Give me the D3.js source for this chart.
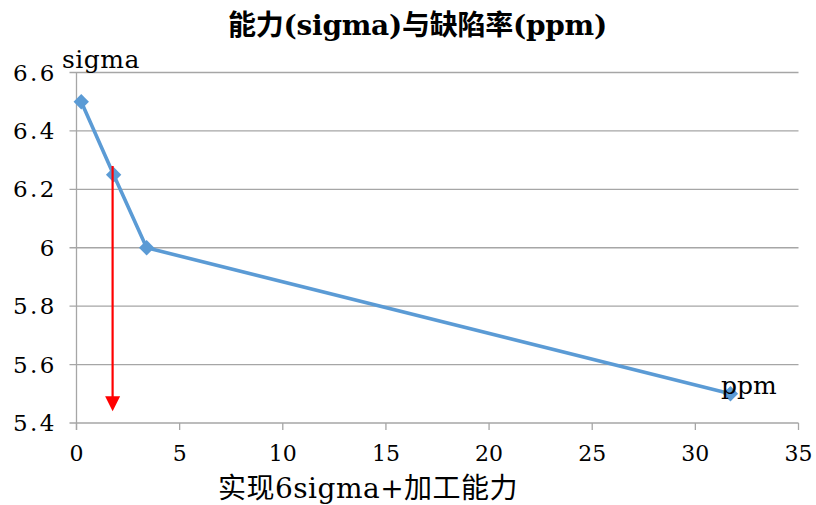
<!DOCTYPE html>
<html>
<head>
<meta charset="utf-8">
<script src="https://cdn.jsdelivr.net/npm/d3@7"></script>
<style>
  body { margin: 0; background: #fff; }
  svg { display: block; }
  text { font-family: "DejaVu Serif", "Noto Sans CJK SC", serif; fill: #000; }
</style>
</head>
<body>
<svg id="chart" width="816" height="505"></svg>
<script>
// data
const ppm = [0.23, 1.8, 3.4, 31.7];
const sigma = [6.5, 6.25, 6.0, 5.5];
const yTicks = [5.4, 5.6, 5.8, 6, 6.2, 6.4, 6.6];
const xTicks = [0, 5, 10, 15, 20, 25, 30, 35];
const arrowX = [1.75];
const arrowY = [6.28, 5.44];

const titleText = "能力(sigma)与缺陷率(ppm)";
const xTitle = "实现6sigma+加工能力";

let svg = d3.select("#chart");
let plotLeft = 76.5, plotRight = 798.5, plotTop = 72.5, plotBottom = 423;

let x = d3.scaleLinear().domain([0, 35]).range([plotLeft, plotRight]);
let y = d3.scaleLinear().domain([5.4, 6.6]).range([plotBottom, plotTop]);

// stretch a text run so it covers the same width as in the reference
function fitWidth(sel, target) {
    let n = sel.text().length;
    let w = sel.node().getComputedTextLength();
    sel.attr("letter-spacing", (target - w) / n);
}

// gridlines
svg.append("g")
    .selectAll("line")
    .data(yTicks)
    .join("line")
    .attr("x1", plotLeft - 7)
    .attr("x2", plotRight)
    .attr("y1", d => y(d))
    .attr("y2", d => y(d))
    .attr("stroke", "#a6a6a6")
    .attr("stroke-width", 1.3);

// y axis line
svg.append("line")
    .attr("x1", plotLeft).attr("x2", plotLeft)
    .attr("y1", plotTop).attr("y2", plotBottom + 7)
    .attr("stroke", "#a6a6a6").attr("stroke-width", 1.3);

// x ticks
svg.append("g")
    .selectAll("line")
    .data(xTicks)
    .join("line")
    .attr("x1", d => x(d)).attr("x2", d => x(d))
    .attr("y1", plotBottom).attr("y2", plotBottom + 7)
    .attr("stroke", "#a6a6a6").attr("stroke-width", 1.3);

// y tick labels
svg.append("g")
    .selectAll("text")
    .data(yTicks)
    .join("text")
    .attr("x", 57)
    .attr("y", d => y(d) + 8)
    .attr("text-anchor", "end")
    .attr("font-size", 23)
    .attr("letter-spacing", 2.5)
    .text(d => d3.format("")(d));

// x tick labels
svg.append("g")
    .selectAll("text")
    .data(xTicks)
    .join("text")
    .attr("x", d => x(d))
    .attr("y", 461)
    .attr("text-anchor", "middle")
    .attr("font-size", 22)
    .text(d => d);

// the series line
let line = d3.line()
    .x((d, i) => x(ppm[i]))
    .y(d => y(d));

svg.append("path")
    .datum(sigma)
    .attr("d", line)
    .attr("fill", "none")
    .attr("stroke", "#5b9bd5")
    .attr("stroke-width", 3.6);

svg.append("g")
    .selectAll("path")
    .data(sigma)
    .join("path")
    .attr("d", d3.symbol().type(d3.symbolDiamond2).size(150))
    .attr("transform", (d, i) => "translate(" + x(ppm[i]) + "," + y(d) + ")")
    .attr("fill", "#5b9bd5");

// red arrow
let ax = x(arrowX[0]);
svg.append("line")
    .attr("x1", ax).attr("x2", ax)
    .attr("y1", y(arrowY[0])).attr("y2", y(arrowY[1]) - 13)
    .attr("stroke", "#ff0000").attr("stroke-width", 2.2);
svg.append("path")
    .attr("d", "M" + (ax - 7.5) + "," + (y(arrowY[1]) - 15) + "L" + (ax + 7.5) + "," + (y(arrowY[1]) - 15) + "L" + ax + "," + y(arrowY[1]) + "Z")
    .attr("fill", "#ff0000");

// labels
let title = svg.append("text")
    .attr("x", 228).attr("y", 35)
    .attr("font-size", 28)
    .attr("font-weight", 600)
    .text(titleText);
fitWidth(title, 379);

svg.append("text")
    .attr("x", 62).attr("y", 68)
    .attr("font-size", 25)
    .attr("letter-spacing", 0.5)
    .text("sigma");

svg.append("text")
    .attr("x", 721).attr("y", 394)
    .attr("font-size", 25)
    .text("ppm");

let xt = svg.append("text")
    .attr("x", 218).attr("y", 498)
    .attr("font-size", 28)
    .text(xTitle);
fitWidth(xt, 300);
</script>
</body>
</html>
